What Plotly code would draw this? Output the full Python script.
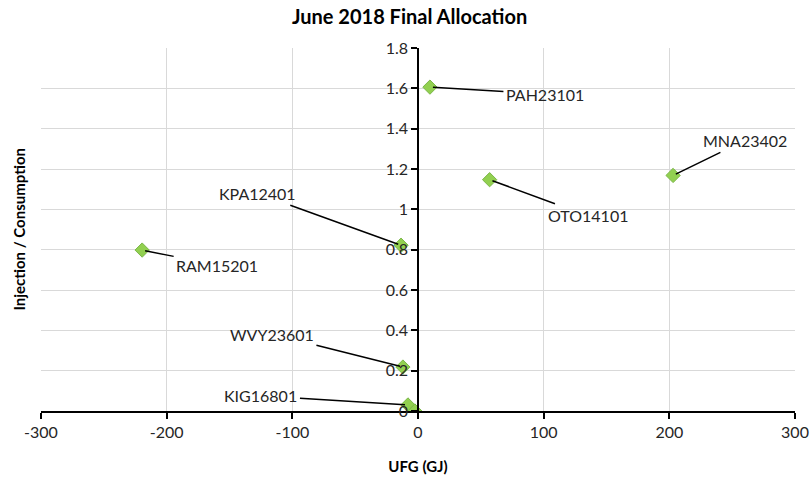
import plotly.graph_objects as go

# data
sites = ["PAH23101", "MNA23402", "OTO14101", "KPA12401", "RAM15201", "WVY23601", "KIG16801", ""]
ufg = [9.5, 203, 57, -13.5, -219.5, -12, -8, -2.5]
ratio = [1.606, 1.168, 1.147, 0.822, 0.798, 0.218, 0.03, 0.0]

x_ticks = [-300, -200, -100, 0, 100, 200, 300]
x_tick_labels = ["-300", "-200", "-100", "0", "100", "200", "300"]

# label offsets in pixels (text centre relative to point)
offsets = {
    "PAH23101": (115, 7),
    "MNA23402": (72, -35),
    "OTO14101": (98, 36),
    "KPA12401": (-144, -52),
    "RAM15201": (75, 15),
    "WVY23601": (-131, -33),
    "KIG16801": (-147, -9),
}

FONT = "Lato, Liberation Sans, sans-serif"

fig = go.Figure()
fig.add_trace(go.Scatter(
    x=ufg, y=ratio, mode="markers",
    marker=dict(symbol="diamond", size=11, color="#92D050",
                line=dict(color="#7AB648", width=1)),
    hoverinfo="x+y",
    showlegend=False,
))

annotations = []
for name, xv, yv in zip(sites, ufg, ratio):
    if not name:
        continue
    dx, dy = offsets[name]
    annotations.append(dict(
        x=xv, y=yv, xref="x", yref="y", text=name,
        showarrow=True, arrowhead=0, arrowwidth=1.5, arrowcolor="#000000",
        ax=dx, ay=dy, standoff=3, borderpad=2,
        font=dict(family=FONT, size=16, color="#262626"),
    ))

annotations.append(dict(
    text="<b>Injection / Consumption</b>", textangle=-90,
    x=-0.0305, y=0.5, xref="paper", yref="paper", showarrow=False,
    xanchor="center", yanchor="middle",
    font=dict(family=FONT, size=15, color="#000000"),
))

fig.update_layout(
    width=811, height=480,
    margin=dict(l=41, r=16, t=48, b=69),
    paper_bgcolor="white", plot_bgcolor="white",
    title=dict(text="<b>June 2018 Final Allocation</b>", x=0.505, xanchor="center",
               y=1.0, yanchor="top", pad=dict(t=10),
               font=dict(family=FONT, size=20, color="#000000")),
    font=dict(family=FONT, size=16, color="#262626"),
    xaxis=dict(
        range=[-300, 300], tickvals=x_ticks, ticktext=x_tick_labels,
        automargin=False,
        showgrid=True, gridcolor="#D9D9D9", gridwidth=1,
        zeroline=False, showline=True, linecolor="#000000", linewidth=1.5,
        ticks="outside", ticklen=6, tickcolor="#000000", tickwidth=1.5,
        tickfont=dict(family=FONT, size=16, color="#262626"),
        title=dict(text="<b>UFG (GJ)</b>", standoff=22,
                   font=dict(family=FONT, size=15, color="#000000")),
    ),
    yaxis=dict(
        range=[0, 1.8], dtick=0.2, tick0=0,
        anchor="free", position=0.5, automargin=False,
        showgrid=True, gridcolor="#D9D9D9", gridwidth=1,
        zeroline=False, showline=True, linecolor="#000000", linewidth=1.5,
        ticks="outside", ticklen=6, tickcolor="#000000", tickwidth=1.5,
        tickfont=dict(family=FONT, size=16, color="#262626"),
    ),
    annotations=annotations,
)

# drop the default body margin so the figure fills the window exactly
fig.write_html("out.html", config={"displayModeBar": False},
               post_script="document.body.style.margin = '0';")
